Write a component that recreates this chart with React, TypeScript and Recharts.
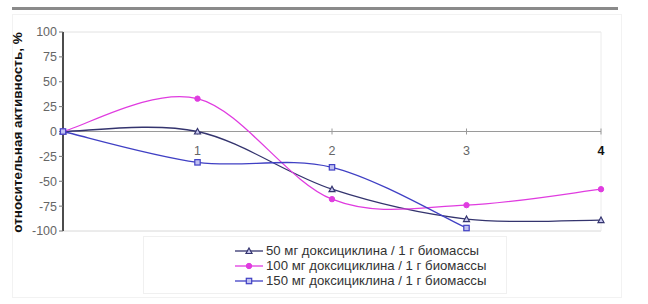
import {
  LineChart, Line, XAxis, YAxis, ReferenceLine, ReferenceDot,
} from 'recharts'

const days = [0, 1, 2, 3, 4]
const dose50 = [0, 0, -58, -88, -89]
const dose100 = [0, 33, -68, -74, -58]
const dose150 = [0, -31, -36, -97, null]
const yTicks = [-100, -75, -50, -25, 0, 25, 50, 75, 100]
const xTicks = [1, 2, 3, 4]
const seriesNames = [
  '50 мг доксициклина / 1 г биомассы',
  '100 мг доксициклина / 1 г биомассы',
  '150 мг доксициклина / 1 г биомассы',
]

const C50 = '#34346e'
const C100 = '#e03ce0'
const C150 = '#4040c4'

const data = days.map((d, i) => ({ x: d, a: dose50[i], b: dose100[i], c: dose150[i] }))

// excel-like smoothed line (catmull-rom through the points)
function smoothCurve(context: any) {
  let pts: number[][] = []
  return {
    areaStart() {},
    areaEnd() {},
    lineStart() { pts = [] },
    point(x: number, y: number) { pts.push([+x, +y]) },
    lineEnd() {
      if (!pts.length) return
      context.moveTo(pts[0][0], pts[0][1])
      for (let i = 0; i < pts.length - 1; i++) {
        const p0 = pts[i - 1] || pts[i]
        const p1 = pts[i]
        const p2 = pts[i + 1]
        const p3 = pts[i + 2] || pts[i + 1]
        context.bezierCurveTo(
          p1[0] + (p2[0] - p0[0]) / 6, p1[1] + (p2[1] - p0[1]) / 6,
          p2[0] - (p3[0] - p1[0]) / 6, p2[1] - (p3[1] - p1[1]) / 6,
          p2[0], p2[1],
        )
      }
    },
  }
}

function Triangle({ cx, cy }: any) {
  if (cx == null || cy == null) return null
  return <path d={`M${cx},${cy - 3}L${cx + 3},${cy + 2.5}L${cx - 3},${cy + 2.5}Z`} fill="#c8c8f0" stroke={C50} strokeWidth={1.2} />
}
function Circle({ cx, cy }: any) {
  if (cx == null || cy == null) return null
  return <circle cx={cx} cy={cy} r={2.7} fill={C100} stroke={C100} />
}
function Square({ cx, cy }: any) {
  if (cx == null || cy == null) return null
  return <rect x={cx - 2.7} y={cy - 2.7} width={5.4} height={5.4} fill="#c0c0f0" stroke={C150} strokeWidth={1.2} />
}

const markers = [
  (x: number, y: number) => <Triangle cx={x} cy={y} />,
  (x: number, y: number) => <Circle cx={x} cy={y} />,
  (x: number, y: number) => <Square cx={x} cy={y} />,
]
const legendColors = [C50, C100, C150]

function LegendBox() {
  return (
    <div style={{ position: 'absolute', left: 235, top: 243, fontFamily: 'Arial, "Liberation Sans"', fontSize: 13.2, color: '#333' }}>
      {seriesNames.map((name, i) => (
        <div key={i} style={{ display: 'flex', alignItems: 'center', height: 15 }}>
          <svg width={28} height={10} style={{ marginRight: 3 }}>
            <line x1={0} y1={5} x2={28} y2={5} stroke={legendColors[i]} strokeWidth={1.3} />
            {markers[i](14, 5)}
          </svg>
          <span>{name}</span>
        </div>
      ))}
    </div>
  )
}

function XLabel({ viewBox, value }: any) {
  const bold = value === 4
  return (
    <text
      x={viewBox.x}
      y={viewBox.y + 23}
      textAnchor="middle"
      fontSize={12.5}
      fontWeight={bold ? 'bold' : 'normal'}
      fill={bold ? '#111' : '#666'}
      fontFamily="Arial, 'Liberation Sans'"
    >
      {value}
    </text>
  )
}

function YTitle({ viewBox }: any) {
  const cx = viewBox.x + 4
  const cy = viewBox.y + viewBox.height / 2 + 1
  return (
    <text
      x={cx}
      y={cy}
      transform={`rotate(-90 ${cx} ${cy})`}
      textAnchor="middle"
      dominantBaseline="central"
      fontSize={13.5}
      fontWeight="bold"
      fill="#111"
      fontFamily="Arial, 'Liberation Sans'"
    >
      относительная активность, %
    </text>
  )
}

export default function App() {
  return (
    <div style={{ position: 'absolute', left: 0, top: 0, width: 648, height: 304, background: '#fff', fontFamily: 'Arial' }}>
      <div style={{ position: 'absolute', left: 12, top: 7, width: 606, height: 3, background: '#8a8a8a' }} />
      <div style={{ position: 'absolute', left: 12, top: 14, width: 608, height: 282, border: '1px solid #f2f2f2' }} />
      <div style={{ position: 'absolute', left: 143, top: 236, width: 362, height: 56, border: '1px solid #f0f0f0' }} />
      <LineChart width={648} height={304} data={data} margin={{ top: 32, right: 47, bottom: 73, left: 13 }}>
        <XAxis type="number" dataKey="x" domain={[0, 4]} hide />
        <YAxis
          type="number"
          domain={[-100, 100]}
          ticks={yTicks}
          width={50}
          axisLine={{ stroke: '#111', strokeWidth: 1.5 }}
          tickLine={{ stroke: '#777' }}
          tickSize={4}
          tick={{ fill: '#666', fontSize: 12.5, fontFamily: 'Arial' }}
          interval={0}
          label={{ content: (p: any) => <YTitle {...p} /> }}
        />
        <ReferenceLine y={100} stroke="#e2e2e2" />
        <ReferenceLine y={-100} stroke="#d8d8d8" />
        <ReferenceLine x={4} stroke="#ececec" />
        <ReferenceLine y={0} stroke="#9a9a9a" />
        {xTicks.map((t) => (
          <ReferenceLine key={`t${t}`} segment={[{ x: t, y: -3 }, { x: t, y: 3 }]} stroke="#9a9a9a" />
        ))}
        {xTicks.map((t) => (
          <ReferenceDot key={`l${t}`} x={t} y={0} r={0} fill="none" stroke="none" label={{ content: (p: any) => <XLabel {...p} value={t} /> }} />
        ))}
        <Line dataKey="a" type={smoothCurve as any} stroke={C50} strokeWidth={1.3} dot={<Triangle />} activeDot={false} isAnimationActive={false} />
        <Line dataKey="b" type={smoothCurve as any} stroke={C100} strokeWidth={1.3} dot={<Circle />} activeDot={false} isAnimationActive={false} />
        <Line dataKey="c" type={smoothCurve as any} stroke={C150} strokeWidth={1.3} dot={<Square />} activeDot={false} isAnimationActive={false} />
      </LineChart>
      <LegendBox />
    </div>
  )
}
